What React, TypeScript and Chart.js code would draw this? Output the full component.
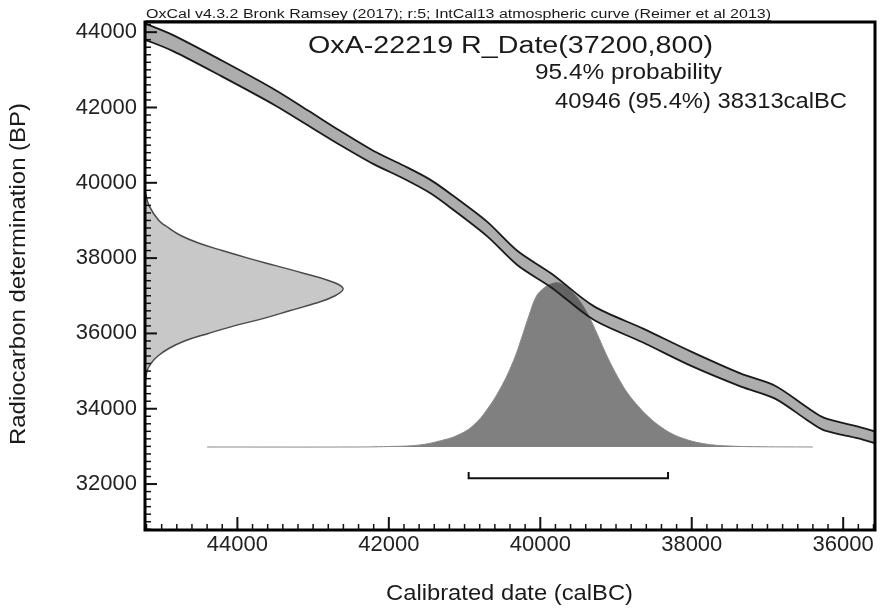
import React, { useEffect, useRef } from "react";
import { Chart, registerables } from "chart.js";

Chart.register(...registerables);

// ---- Texts ----
const headerText = "OxCal v4.3.2 Bronk Ramsey (2017); r:5; IntCal13 atmospheric curve (Reimer et al 2013)";
const titleText = "OxA-22219 R_Date(37200,800)";
const probText = "95.4% probability";
const rangeText = "40946 (95.4%) 38313calBC";
const xTitle = "Calibrated date (calBC)";
const yTitle = "Radiocarbon determination (BP)";

// ---- Axis ticks ----
const xTickValues = [44000, 42000, 40000, 38000, 36000];
const yTickValues = [32000, 34000, 36000, 38000, 40000, 42000, 44000];

// ---- Calibration curve (IntCal13) ----
const curveCal = [45250, 44850, 44200, 43500, 43050, 42650, 42200, 41800, 41450, 41150, 40700, 40300, 39850, 39300, 38650, 38000, 37350, 36900, 36450, 36250, 35800, 35550];
const curveBP = [44040, 43710, 43030, 42260, 41700, 41200, 40670, 40280, 39900, 39470, 38770, 38000, 37400, 36550, 35950, 35320, 34760, 34440, 33830, 33590, 33370, 33220];
const curveErr = [215, 212, 210, 205, 198, 188, 175, 172, 178, 185, 192, 188, 185, 182, 185, 190, 172, 170, 168, 165, 158, 155];

// ---- Radiocarbon date distribution (relative probability) ----
const r14BP = [39800, 39400, 39000, 38800, 38600, 38400, 38200, 38000, 37800, 37600, 37400, 37200, 37000, 36800, 36600, 36400, 36200, 36000, 35800, 35600, 35400, 35200, 35000, 34600];
const r14Prob = [0, 0.02, 0.07, 0.12, 0.18, 0.27, 0.39, 0.52, 0.66, 0.8, 0.93, 1.0, 0.96, 0.86, 0.73, 0.6, 0.45, 0.32, 0.2, 0.12, 0.065, 0.03, 0.01, 0];

// ---- Calibrated distribution (relative probability) ----
const calBC = [44400, 42500, 42000, 41600, 41300, 41100, 40900, 40700, 40500, 40350, 40250, 40150, 40050, 39950, 39850, 39750, 39650, 39550, 39450, 39350, 39250, 39150, 39050, 38950, 38850, 38700, 38550, 38400, 38250, 38100, 37950, 37750, 37500, 37200, 36400];
const calProb = [0, 0, 0.003, 0.012, 0.04, 0.07, 0.125, 0.23, 0.38, 0.53, 0.66, 0.8, 0.92, 0.97, 0.995, 1.0, 0.975, 0.93, 0.87, 0.79, 0.69, 0.585, 0.49, 0.405, 0.33, 0.245, 0.175, 0.12, 0.078, 0.05, 0.03, 0.014, 0.006, 0.002, 0];

// ---- 95.4% range ----
const rangeFrom = 40946;
const rangeTo = 38313;

const FONT = '"Liberation Sans", Arial, Helvetica, sans-serif';

function fitText(
  ctx: CanvasRenderingContext2D,
  text: string,
  x: number,
  y: number,
  size: number,
  width: number,
  align: CanvasTextAlign,
  rotate = false
) {
  ctx.save();
  ctx.font = `${size}px ${FONT}`;
  const w = ctx.measureText(text).width;
  const sx = width / w;
  ctx.translate(x, y);
  if (rotate) ctx.rotate(-Math.PI / 2);
  ctx.scale(sx, 1);
  ctx.textAlign = align;
  ctx.textBaseline = "alphabetic";
  ctx.fillStyle = "#1a1a1a";
  ctx.fillText(text, 0, 0);
  ctx.restore();
}

const decorPlugin = {
  id: "oxcalDecor",
  afterDraw(chart: any) {
    const ctx: CanvasRenderingContext2D = chart.ctx;
    const { left, right, top, bottom } = chart.chartArea;
    const xs = chart.scales.x;
    const ys = chart.scales.y;

    // inner tick marks
    ctx.save();
    ctx.strokeStyle = "#111";
    const minorStep = 200;
    for (let v = Math.ceil(xs.min / minorStep) * minorStep; v <= xs.max; v += minorStep) {
      const px = xs.getPixelForValue(v);
      const major = v % 2000 === 0;
      ctx.lineWidth = major ? 2 : 1.5;
      ctx.beginPath();
      ctx.moveTo(px, bottom);
      ctx.lineTo(px, bottom - (major ? 13 : 6));
      ctx.stroke();
    }
    for (let v = Math.ceil(ys.min / minorStep) * minorStep; v <= ys.max; v += minorStep) {
      const py = ys.getPixelForValue(v);
      const major = v % 2000 === 0;
      ctx.lineWidth = major ? 2 : 1.5;
      ctx.beginPath();
      ctx.moveTo(left, py);
      ctx.lineTo(left + (major ? 12 : 6), py);
      ctx.stroke();
    }
    // frame
    ctx.lineWidth = 3;
    ctx.strokeStyle = "#000";
    ctx.strokeRect(left, top, right - left, bottom - top);
    ctx.restore();

    // header with underline
    fitText(ctx, headerText, 146, 18, 12.5, 625, "left");
    ctx.save();
    ctx.strokeStyle = "#333";
    ctx.lineWidth = 1;
    ctx.beginPath();
    ctx.moveTo(146, 20.5);
    ctx.lineTo(771, 20.5);
    ctx.stroke();
    ctx.restore();

    // title and annotation
    fitText(ctx, titleText, 308, 53, 23.5, 405, "left");
    fitText(ctx, probText, 535, 79, 22, 187, "left");
    fitText(ctx, rangeText, 555, 108, 22, 292, "left");

    // axis titles
    fitText(ctx, xTitle, 509.5, 600, 22, 247, "center");
    fitText(ctx, yTitle, 25, 274, 22, 342, "center", true);
  },
};

export default function App() {
  const ref = useRef<HTMLCanvasElement | null>(null);

  useEffect(() => {
    if (!ref.current) return;
    const upper = curveCal.map((c, i) => ({ x: c, y: curveBP[i] + curveErr[i] }));
    const lower = curveCal.map((c, i) => ({ x: c, y: curveBP[i] - curveErr[i] }));
    const r14 = r14BP.map((b, i) => ({ x: r14Prob[i], y: b }));
    const cal = calBC.map((c, i) => ({ x: c, y: calProb[i] }));
    const bracketLow = -0.19;
    const bracketHigh = -0.152;
    const bracket = [
      { x: rangeFrom, y: bracketHigh },
      { x: rangeFrom, y: bracketLow },
      { x: rangeTo, y: bracketLow },
      { x: rangeTo, y: bracketHigh },
    ];

    const chart = new Chart(ref.current, {
      type: "line",
      data: {
        datasets: [
          {
            label: "curve upper",
            data: upper,
            xAxisID: "x",
            yAxisID: "y",
            borderColor: "#1a1a1a",
            borderWidth: 1.8,
            pointRadius: 0,
            tension: 0.3,
            fill: false,
          },
          {
            label: "curve lower",
            data: lower,
            xAxisID: "x",
            yAxisID: "y",
            borderColor: "#1a1a1a",
            borderWidth: 1.8,
            pointRadius: 0,
            tension: 0.3,
            fill: "-1",
            backgroundColor: "rgba(60,60,60,0.42)",
          },
          {
            label: "range",
            data: bracket,
            xAxisID: "x",
            yAxisID: "yp",
            borderColor: "#111",
            borderWidth: 2,
            pointRadius: 0,
            tension: 0,
            fill: false,
          },
          {
            label: "calibrated",
            data: cal,
            xAxisID: "x",
            yAxisID: "yp",
            borderColor: "#8a8a8a",
            borderWidth: 1,
            pointRadius: 0,
            tension: 0.4,
            fill: "origin",
            backgroundColor: "#808080",
          },
          {
            label: "R_Date",
            data: r14,
            xAxisID: "xp",
            yAxisID: "y",
            borderColor: "#4a4a4a",
            borderWidth: 1.5,
            pointRadius: 0,
            tension: 0.4,
            fill: "shape",
            backgroundColor: "#c8c8c8",
          },
        ],
      },
      options: {
        animation: false,
        responsive: false,
        devicePixelRatio: 1,
        layout: { padding: { top: 22, right: 6, left: 0, bottom: 0 } },
        plugins: {
          legend: { display: false },
          tooltip: { enabled: false },
          title: { display: false },
        },
        events: [],
        scales: {
          x: {
            type: "linear",
            position: "bottom",
            min: 35580,
            max: 45220,
            reverse: true,
            grid: { display: false, drawTicks: false },
            border: { display: false },
            afterBuildTicks: (s: any) => {
              s.ticks = xTickValues.map((v) => ({ value: v }));
            },
            afterFit: (s: any) => {
              s.height = 80;
            },
            ticks: {
              padding: 2,
              color: "#222",
              font: { family: FONT, size: 22 },
              maxRotation: 0,
              autoSkip: false,
              callback: (v: any) => String(v),
            },
          },
          y: {
            type: "linear",
            position: "left",
            min: 30780,
            max: 44270,
            grid: { display: false, drawTicks: false },
            border: { display: false },
            afterBuildTicks: (s: any) => {
              s.ticks = yTickValues.map((v) => ({ value: v }));
            },
            afterFit: (s: any) => {
              s.width = 145;
            },
            ticks: {
              padding: 8,
              color: "#222",
              font: { family: FONT, size: 22 },
              autoSkip: false,
              callback: (v: any) => String(v),
            },
          },
          xp: {
            type: "linear",
            axis: "x",
            position: "top",
            display: false,
            min: 0,
            max: 3.687,
          },
          yp: {
            type: "linear",
            axis: "y",
            position: "right",
            display: false,
            min: -0.506,
            max: 2.591,
          },
        },
      } as any,
      plugins: [decorPlugin],
    });
    return () => chart.destroy();
  }, []);

  return (
    <div style={{ position: "fixed", left: 0, top: 0, width: 881, height: 610, background: "#fff" }}>
      <canvas ref={ref} width={881} height={610} style={{ width: 881, height: 610, display: "block" }} />
    </div>
  );
}
